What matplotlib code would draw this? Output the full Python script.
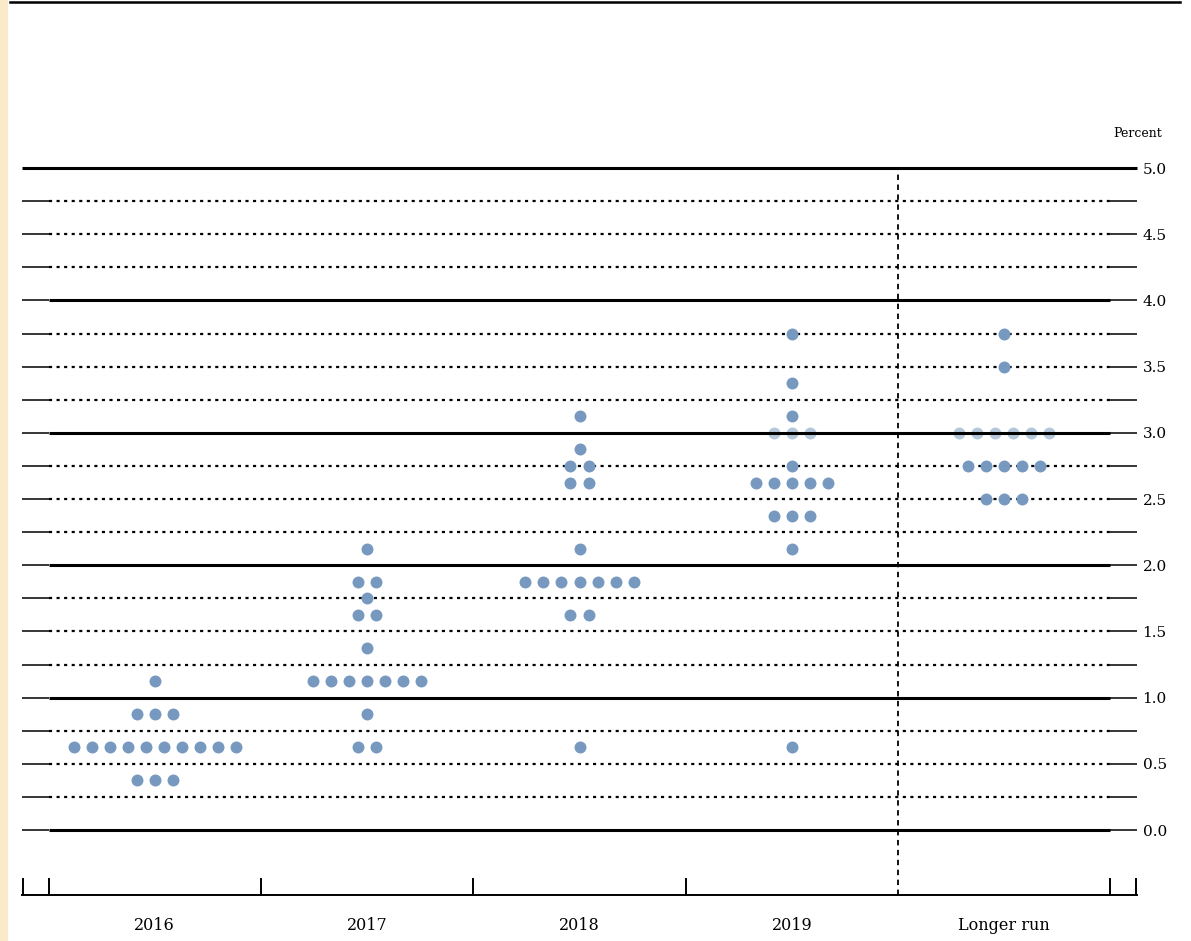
import numpy as np
import matplotlib.pyplot as plt
from matplotlib.lines import Line2D
from matplotlib.patches import Rectangle

plt.rcParams['font.family'] = 'DejaVu Serif'

# categories on the x axis
categories = ['2016', '2017', '2018', '2019', 'Longer run']

# each participant's projection: rate level and number of dots at that level
levels_2016 = [1.125, 0.875, 0.625, 0.375]
counts_2016 = [1, 3, 10, 3]

levels_2017 = [2.125, 1.875, 1.75, 1.625, 1.375, 1.125, 0.875, 0.625]
counts_2017 = [1, 2, 1, 2, 1, 7, 1, 2]

levels_2018 = [3.125, 2.875, 2.75, 2.625, 2.125, 1.875, 1.625, 0.625]
counts_2018 = [1, 1, 2, 2, 1, 7, 2, 1]

levels_2019 = [3.75, 3.375, 3.125, 3.0, 2.75, 2.625, 2.375, 2.125, 0.625]
counts_2019 = [1, 1, 1, 3, 1, 5, 3, 1, 1]

levels_long = [3.75, 3.5, 3.0, 2.75, 2.5]
counts_long = [1, 1, 6, 5, 3]

all_levels = [levels_2016, levels_2017, levels_2018, levels_2019, levels_long]
all_counts = [counts_2016, counts_2017, counts_2018, counts_2019, counts_long]

yticks = np.arange(0, 5.01, 0.5)
grid_levels = np.arange(0, 5.01, 0.25)

dot_color = '#7899BF'
dot_step = 0.085
xmin, xmax = -0.625, 4.625

fig = plt.figure(figsize=(11.91, 9.41), dpi=100)
ax = fig.add_axes([22/1191, 46/941, (1137-22)/1191, (895-168)/941])
ax.set_xlim(xmin, xmax)
ax.set_ylim(-0.49, 5.0)

# yellow strip and top rule
fig.patches.append(Rectangle((0, 0), 7/1191, 1, transform=fig.transFigure,
                             color='#F9EBC9', zorder=0))
fig.add_artist(Line2D([10/1191, 1180/1191], [1 - 2/941, 1 - 2/941],
                      color='black', lw=1.8))

# horizontal grid: thin end ticks, thick solid at whole numbers, dotted otherwise
for lev in grid_levels:
    if lev == 5:
        ax.hlines(lev, xmin, xmax, color='black', lw=2.2, zorder=2, clip_on=False)
        continue
    ax.hlines(lev, xmin, -0.5, color='black', lw=1.1, zorder=2)
    ax.hlines(lev, 4.5, xmax, color='black', lw=1.1, zorder=2)
    if abs(lev - round(lev)) < 1e-9:
        ax.hlines(lev, -0.5, 4.5, color='black', lw=2.2, zorder=2)
    else:
        ax.hlines(lev, -0.5, 4.5, color='black', lw=1.6,
                  linestyles=(0, (1.4, 2.0)), zorder=2)

# separator for longer run
ax.vlines(3.5, -0.49, 5.0, color='black', lw=1.3, linestyles=(0, (3, 2.5)), zorder=2)

# dots
for i, (levs, cnts) in enumerate(zip(all_levels, all_counts)):
    for lev, n in zip(levs, cnts):
        xs = i + (np.arange(n) - (n - 1) / 2) * dot_step
        on_line = abs(lev - round(lev)) < 1e-9
        ax.plot(xs, [lev] * n, 'o', color=dot_color, ms=8.6, mew=0,
                alpha=0.55 if on_line else 1.0, zorder=1 if on_line else 3)

# axes styling
for s in ['top', 'left', 'right']:
    ax.spines[s].set_visible(False)
ax.spines['bottom'].set_linewidth(1.4)
ax.set_xticks([xmin + 0.003, -0.5, 0.5, 1.5, 2.5, 4.5, xmax - 0.003])
ax.set_xticklabels([])
ax.tick_params(axis='x', which='major', direction='in', length=12.5, width=1.4)
ax.set_xticks(range(len(categories)), minor=True)
ax.set_xticklabels(categories, minor=True, fontsize=11.5)
ax.tick_params(axis='x', which='minor', length=0, pad=16)

ax.yaxis.tick_right()
ax.set_yticks(yticks)
ax.set_yticklabels([f'{v:.1f}' for v in yticks], fontsize=11)
ax.tick_params(axis='y', length=0, pad=4)
ax.text(1.0 + 25/1115, 1.0 + 35/727, 'Percent', transform=ax.transAxes,
        ha='right', va='center', fontsize=9)

fig.savefig('out.png', dpi=100)
